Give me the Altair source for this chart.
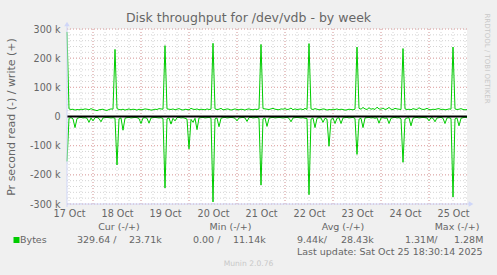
import altair as alt
import pandas as pd

FONT = "DejaVu Sans"
TXT = "#666666"
GREEN = "#00CC00"

# ---- data (in thousands of bytes/s, hourly from 17 Oct 11:00 UTC) ----
START = "2025-10-17T11:00:00Z"
END = "2025-10-25T19:00:00Z"

write_k = [
    290,
    26, 24, 25, 22, 24, 23, 25, 24, 26, 25, 23, 27, 24, 22, 20, 23, 24, 25, 22, 21, 24, 26, 25,
    230,
    27, 24, 23, 25, 22, 24, 26, 23, 25, 24, 22, 25, 23, 24, 26, 25, 24, 22, 23, 25, 24, 27, 26, 25,
    243,
    26, 25, 24, 26, 23, 25, 27, 24, 22, 25, 24, 23, 28, 25, 24, 26, 23, 25, 24, 23, 26, 24, 25,
    251,
    26, 24, 25, 28, 23, 24, 26, 25, 22, 24, 26, 24, 23, 25, 24, 22, 25, 26, 24, 23, 25, 24, 26,
    247,
    27, 26, 25, 24, 26, 28, 25, 24, 23, 26, 25, 27, 24, 25, 29, 23, 26, 24, 25, 26, 23, 28, 24,
    250,
    26, 24, 27, 25, 23, 24, 26, 25, 22, 24, 23, 25, 24, 26, 23, 25, 24, 22, 23, 25, 24, 23, 25,
    238,
    28, 25, 31, 26, 24, 30, 25, 27, 24, 32, 26, 25, 29, 24, 26, 31, 25, 24, 28, 26, 25, 24,
    233,
    26, 24, 25, 23, 27, 25, 24, 30, 26, 24, 25, 28, 24, 23, 25, 24, 26, 27, 24, 25, 23, 24, 26, 25,
    238,
    26, 24, 25, 27, 24, 23, 24,
]

read_k = [
    -154, -6, -4, -8, -38, -7, -4, -3, -5, -4,
    -6, -20, -5, -15, -4, -3, -7, -18, -5, -4,
    -3, -4, -5, -4, -6, -166, -8, -5, -47, -6,
    -4, -3, -5, -4, -3, -4, -7, -24, -5, -4,
    -6, -23, -5, -4, -3, -4, -5, -4, -7, -245,
    -8, -5, -26, -6, -15, -4, -3, -5, -4, -6,
    -9, -111, -10, -20, -6, -45, -5, -4, -3, -5,
    -4, -3, -6, -293, -8, -5, -35, -6, -4, -3,
    -5, -4, -3, -4, -6, -15, -5, -4, -3, -5,
    -17, -4, -3, -5, -4, -3, -6, -235, -8, -5,
    -34, -6, -4, -3, -5, -4, -3, -4, -5, -4,
    -3, -6, -18, -5, -4, -3, -4, -5, -4, -6,
    -7, -268, -9, -5, -38, -6, -4, -5, -20, -6,
    -9, -102, -10, -5, -24, -6, -4, -24, -5, -4,
    -3, -5, -4, -3, -7, -130, -9, -6, -38, -5,
    -4, -3, -5, -4, -6, -4, -23, -5, -4, -6,
    -5, -24, -6, -4, -3, -5, -4, -8, -157, -9,
    -5, -4, -32, -6, -4, -3, -5, -4, -3, -4,
    -5, -15, -4, -6, -18, -5, -4, -3, -6, -24,
    -5, -4, -7, -276, -8, -5, -32, -6, -4, -3,
    -4,
]

day_label_days = ["2025-10-17", "2025-10-18", "2025-10-19", "2025-10-20", "2025-10-21",
                  "2025-10-22", "2025-10-23", "2025-10-24", "2025-10-25"]

y_major = [-300000, -200000, -100000, 0, 100000, 200000, 300000]
y_minor = list(range(-300000, 300001, 20000))

legend_headers = ["Cur (-/+)", "Min (-/+)", "Avg (-/+)", "Max (-/+)"]
legend_series = "Bytes"
legend_read = ["329.64 /", "0.00 /", "9.44k/", "1.31M/"]
legend_write = ["23.71k", "11.14k", "28.43k", "1.28M"]
last_update = "Last update: Sat Oct 25 18:30:14 2025"
footer = "Munin 2.0.76"
watermark = "RRDTOOL / TOBI OETIKER"
title_text = "Disk throughput for /dev/vdb - by week"
y_title = "Pr second read (-) / write (+)"

# ---- build tables ----
times = pd.date_range(START, periods=len(write_k), freq="h")
tstr = [t.strftime("%Y-%m-%dT%H:%M:%SZ") for t in times]
df = pd.DataFrame({
    "time": tstr * 2,
    "value": [v * 1000 for v in write_k] + [v * 1000 for v in read_k],
    "series": ["write"] * len(write_k) + ["read"] * len(read_k),
})


def ms(s):
    return int(pd.Timestamp(s).value // 10**6)


dom = [ms(START), ms(END)]
noon_ms = [ms(d + "T12:00:00Z") for d in day_label_days]
midnights = pd.date_range("2025-10-18T00:00:00Z", "2025-10-25T00:00:00Z", freq="D")
minor_times = pd.date_range("2025-10-17T12:00:00Z", "2025-10-25T18:00:00Z", freq="6h")
vmaj = pd.DataFrame({"time": [t.strftime("%Y-%m-%dT%H:%M:%SZ") for t in midnights]})
vmin = pd.DataFrame({"time": [t.strftime("%Y-%m-%dT%H:%M:%SZ") for t in minor_times]})
hmaj = pd.DataFrame({"value": y_major})
hmin = pd.DataFrame({"value": y_minor})

xscale = alt.Scale(type="utc", domain=dom)
yscale = alt.Scale(domain=[-300000, 300000], nice=False, zero=False)

x_axis = alt.Axis(values=noon_ms, format="%d %b", grid=False, ticks=False, domain=False,
                  labelFont=FONT, labelFontSize=9.6, labelColor=TXT, labelPadding=4,
                  labelFlush=False, labelOverlap=False, labelBound=False, title=None)
y_axis = alt.Axis(values=y_major, grid=False, ticks=False, domain=False,
                  labelExpr="datum.value == 0 ? '0' : (datum.value / 1000) + ' k'",
                  labelFont=FONT, labelFontSize=9.6, labelColor=TXT, labelPadding=7,
                  title=y_title, titleFont=FONT, titleFontSize=11, titleColor=TXT,
                  titleFontWeight="normal", titleX=-56, titleY=87.5, titleAngle=270,
                  titleAlign="center", titleBaseline="middle")

X = alt.X("time:T", scale=xscale, axis=x_axis)
Y = alt.Y("value:Q", scale=yscale, axis=y_axis)

grid_minor_v = alt.Chart(vmin).mark_rule(color="#d4d4d4", strokeWidth=1, strokeDash=[1, 2]).encode(x=X)
grid_major_v = alt.Chart(vmaj).mark_rule(color="#e6a6a6", strokeWidth=1, strokeDash=[1, 2]).encode(x=X)
grid_minor_h = alt.Chart(hmin).mark_rule(color="#d4d4d4", strokeWidth=1, strokeDash=[1, 2]).encode(y=Y)
grid_major_h = alt.Chart(hmaj).mark_rule(color="#e6a6a6", strokeWidth=1, strokeDash=[1, 2]).encode(y=Y)

lines = alt.Chart(df).mark_line(color=GREEN, strokeWidth=1, interpolate="linear").encode(
    x=X, y=Y, detail="series:N",
)

zero_line = alt.Chart(pd.DataFrame({"value": [0]})).mark_rule(color="#000000", strokeWidth=2).encode(y=Y)

AXC = "#CFD6F8"
one = alt.Data(values=[{"a": 1}])
x_axis_line = alt.Chart(one).mark_rule(color=AXC, strokeWidth=1).encode(
    x=alt.value(0), x2=alt.value(402), y=alt.value(175))
y_axis_line = alt.Chart(one).mark_rule(color=AXC, strokeWidth=1).encode(
    x=alt.value(0), y=alt.value(178), y2=alt.value(-3))
arrow_up = alt.Chart(one).mark_point(shape="triangle-up", filled=True, color=AXC, size=30, opacity=1).encode(
    x=alt.value(0), y=alt.value(-5))
arrow_right = alt.Chart(one).mark_point(shape="triangle-right", filled=True, color=AXC, size=30, opacity=1).encode(
    x=alt.value(404), y=alt.value(175))


def label(txt, x, y, size=9.5, color=TXT, align="left", angle=0, baseline="middle"):
    return alt.Chart(alt.Data(values=[{"t": txt}])).mark_text(
        align=align, baseline=baseline, fontSize=size, color=color, font=FONT, angle=angle
    ).encode(x=alt.value(x), y=alt.value(y), text="t:N")


texts = [
    label(title_text, 181.5, -11, size=12.5, align="center"),
    label(watermark, 420, 29.5, size=7, color="#c8c8c8", angle=90, align="center"),
]
for h, cx in zip(legend_headers, [52, 163.5, 276, 390]):
    texts.append(label(h, cx, 198, align="center"))
for r, lx in zip(legend_read, [10, 126, 230, 338]):
    texts.append(label(r, lx, 211))
for w, lx in zip(legend_write, [62, 166, 274, 387]):
    texts.append(label(w, lx, 211))
texts.append(label(legend_series, -47, 211))
texts.append(label(last_update, 230, 223))
texts.append(label(footer, 181.5, 235, size=7.6, color="#c8c8c8", align="center"))

swatch = alt.Chart(one).mark_square(color=GREEN, filled=True, size=36, opacity=1).encode(
    x=alt.value(-50.5), y=alt.value(211))

chart = alt.layer(
    grid_minor_v, grid_minor_h, grid_major_v, grid_major_h,
    lines, zero_line, x_axis_line, y_axis_line, arrow_up, arrow_right, swatch, *texts
).properties(
    width=400, height=175,
    autosize=alt.AutoSizeParams(type="none"),
    padding={"left": 67, "top": 29, "right": 30, "bottom": 71},
    background="#F0F0F0",
).configure_view(stroke=None, fill="#FFFFFF")

chart.save("out.html", embed_options={"renderer": "svg", "actions": False})
